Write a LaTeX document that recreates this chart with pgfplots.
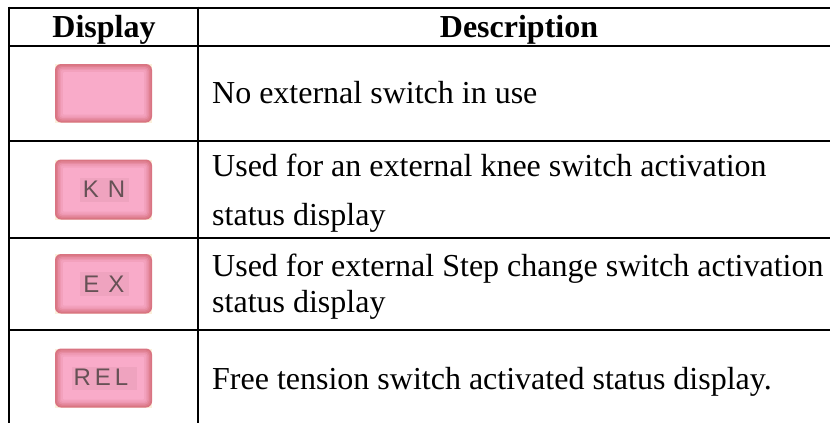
\documentclass[border=0pt]{standalone}
\usepackage{pgfplots}
\pgfplotsset{compat=1.18}
\usepackage{fontspec}
\setmainfont{Liberation Serif}
\newfontfamily\btnfont{Liberation Sans}
\definecolor{c0}{HTML}{D97482}
\definecolor{c1}{HTML}{DF7F90}
\definecolor{c2}{HTML}{E78CA2}
\definecolor{c3}{HTML}{EE98B2}
\definecolor{c4}{HTML}{F3A1BD}
\definecolor{c5}{HTML}{F9ABC9}
\definecolor{cr}{HTML}{FBF0DC}
\definecolor{lb}{HTML}{EFA3BF}
\definecolor{lt}{HTML}{665155}
\newcommand{\btn}[4]{%
 \fill[cr] (axis cs:55,#1) rectangle (axis cs:152,#2);
 \fill[c0,rounded corners=6pt] (axis cs:55,#1) rectangle (axis cs:152,#2);
 \fill[c1,rounded corners=5pt] (axis cs:56.5,#1+1.5) rectangle (axis cs:150.5,#2-1.5);
 \fill[c2,rounded corners=4pt] (axis cs:58,#1+3) rectangle (axis cs:149,#2-3);
 \fill[c3,rounded corners=3pt] (axis cs:59.5,#1+4.5) rectangle (axis cs:147.5,#2-4.5);
 \fill[c4,rounded corners=2pt] (axis cs:61,#1+6) rectangle (axis cs:146,#2-6);
 \fill[c5,rounded corners=1pt] (axis cs:63,#1+8) rectangle (axis cs:144,#2-8);
 \ifx\relax#3\relax\else
  \fill[lb] (axis cs:#4,#1+18) rectangle (axis cs:209-#4,#2-18);
  \node[text=lt,font=\btnfont\fontsize{24}{24}\selectfont,anchor=base,inner sep=0pt] at (axis cs:104,#1+38) {#3};
 \fi}
\newcommand{\txt}[3]{\node[anchor=base west,inner sep=0pt,font=\fontsize{32}{32}\selectfont] at (axis cs:#1,#2) {#3};}
\newcommand{\hd}[3]{\node[anchor=base,inner sep=0pt,font=\fontsize{32}{32}\selectfont\bfseries] at (axis cs:#1,#2) {#3};}
\begin{document}
\begin{tikzpicture}[x=1pt,y=1pt]
\useasboundingbox (0,0) rectangle (830,423);
\begin{axis}[at={(0,0)},anchor=south west,scale only axis,width=830pt,height=423pt,
 xmin=0,xmax=830,ymin=0,ymax=423,y dir=reverse,hide axis,clip=true]
\addplot[black,line width=2pt,forget plot] coordinates {(9,7.5) (830,7.5)};
\addplot[black,line width=2pt,forget plot] coordinates {(9,45.5) (830,45.5)};
\addplot[black,line width=2pt,forget plot] coordinates {(9,140.7) (830,140.7)};
\addplot[black,line width=2pt,forget plot] coordinates {(9,237.7) (830,237.7)};
\addplot[black,line width=2pt,forget plot] coordinates {(9,330) (830,330)};
\addplot[black,line width=2pt,forget plot] coordinates {(9,6.5) (9,423)};
\addplot[black,line width=2pt,forget plot] coordinates {(198,6.5) (198,423)};
\btn{64}{122.5}{}{80}
\btn{159.5}{219.5}{K\kern 9pt N}{80}
\btn{254}{313.5}{E\kern 9pt X}{80}
\btn{348.5}{407.5}{\raisebox{1.5pt}{R\kern 4pt E\kern 4pt L\kern 6pt}}{72}
\hd{104}{37}{Display}
\hd{519}{37}{Description}
\txt{212}{103}{No external switch in use}
\txt{212}{176}{Used for an external knee switch activation}
\txt{212}{225}{status display}
\txt{212}{276}{Used for external Step change switch activation}
\txt{212}{312}{status display}
\txt{212}{389}{Free tension switch activated status display.}
\end{axis}
\end{tikzpicture}
\end{document}
